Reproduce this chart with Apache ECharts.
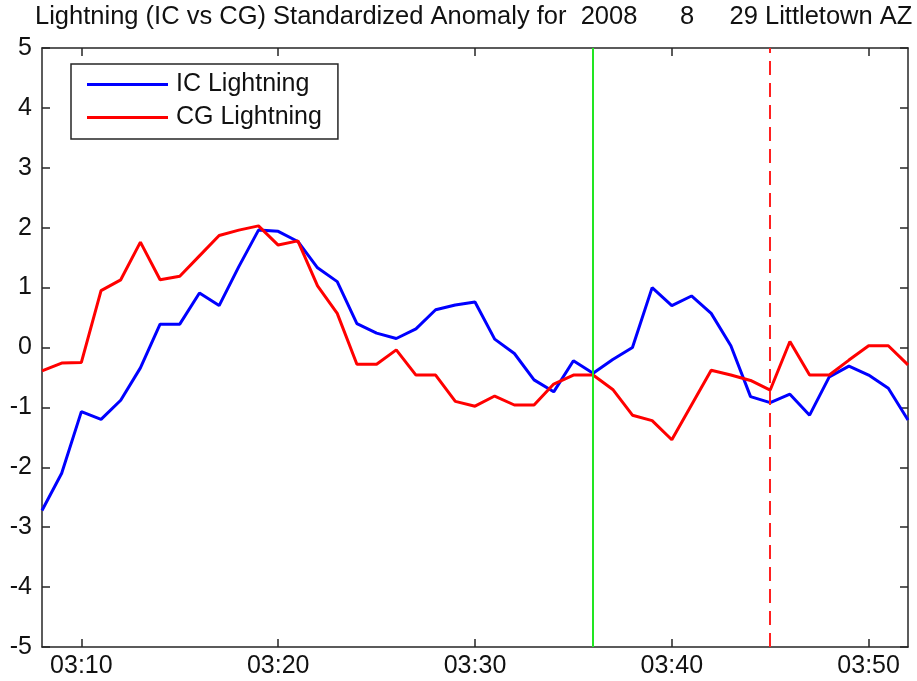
<!DOCTYPE html>
<html>
<head>
<meta charset="utf-8">
<script src="https://cdn.jsdelivr.net/npm/echarts@6/dist/echarts.min.js"></script>
<style>
    html, body { margin: 0; padding: 0; background: #fff; }
    #chart { width: 917px; height: 681px; }
</style>
</head>
<body>
<div id="chart"></div>
<script>
// one sample per minute, 03:08 .. 03:52
const times = [
    '03:08', '03:09', '03:10', '03:11', '03:12', '03:13', '03:14', '03:15', '03:16', '03:17',
    '03:18', '03:19', '03:20', '03:21', '03:22', '03:23', '03:24', '03:25', '03:26', '03:27',
    '03:28', '03:29', '03:30', '03:31', '03:32', '03:33', '03:34', '03:35', '03:36', '03:37',
    '03:38', '03:39', '03:40', '03:41', '03:42', '03:43', '03:44', '03:45', '03:46', '03:47',
    '03:48', '03:49', '03:50', '03:51', '03:52'
];

const icValues = [
    -2.72, -2.10, -1.07, -1.20, -0.88, -0.34, 0.39, 0.39, 0.91, 0.70,
    1.35, 1.96, 1.94, 1.77, 1.33, 1.10, 0.40, 0.24, 0.15, 0.31,
    0.63, 0.71, 0.76, 0.14, -0.10, -0.54, -0.74, -0.22, -0.43, -0.20,
    0.00, 1.00, 0.70, 0.86, 0.57, 0.03, -0.82, -0.92, -0.78, -1.13,
    -0.49, -0.31, -0.46, -0.68, -1.21
];

const cgValues = [
    -0.39, -0.26, -0.25, 0.95, 1.13, 1.76, 1.13, 1.19, 1.53, 1.87,
    1.96, 2.03, 1.71, 1.78, 1.03, 0.57, -0.28, -0.28, -0.04, -0.46,
    -0.46, -0.90, -0.98, -0.81, -0.96, -0.96, -0.61, -0.46, -0.46, -0.70,
    -1.13, -1.22, -1.54, -0.96, -0.38, -0.46, -0.55, -0.71, 0.10, -0.46,
    -0.46, -0.21, 0.03, 0.03, -0.29
];

const greenMark = '03:36';
const redMark = '03:45';

const font = 'Liberation Sans, Arial, sans-serif';
const axisColor = '#262626';

function isTenMinute(index, value) {
    return value.slice(-1) === '0';
}

const chart = echarts.init(document.getElementById('chart'));

const option = {
    animation: false,
    backgroundColor: '#fff',
    title: {
        text: 'Lightning (IC vs CG) Standardized Anomaly for  2008      8     29 Littletown AZ',
        left: 35,
        top: 4,
        padding: 0,
        textStyle: { fontFamily: font, fontSize: 25.5, fontWeight: 'normal', color: '#111' }
    },
    legend: {
        left: 71,
        top: 64,
        orient: 'vertical',
        data: [
            { name: 'IC Lightning', icon: 'rect' },
            { name: 'CG Lightning', icon: 'rect' }
        ],
        itemWidth: 81,
        itemHeight: 3,
        itemGap: 8,
        padding: [8, 16, 9, 16],
        borderColor: axisColor,
        borderWidth: 1.5,
        borderRadius: 0,
        backgroundColor: '#fff',
        textStyle: { fontFamily: font, fontSize: 25, color: '#111', padding: [0, 0, 0, 3] }
    },
    grid: { left: 42, right: 9, top: 48, bottom: 34 },
    xAxis: [
        {
            type: 'category',
            data: times,
            boundaryGap: false,
            axisLine: { onZero: false, lineStyle: { color: axisColor, width: 1.5 } },
            axisTick: { inside: true, length: 8, interval: isTenMinute, lineStyle: { color: axisColor, width: 1.5 } },
            axisLabel: { interval: isTenMinute, margin: 7, fontFamily: font, fontSize: 25, color: '#111' },
            splitLine: { show: false }
        },
        {
            type: 'category',
            data: times,
            position: 'top',
            boundaryGap: false,
            axisLine: { onZero: false, lineStyle: { color: axisColor, width: 1.5 } },
            axisTick: { inside: true, length: 8, interval: isTenMinute, lineStyle: { color: axisColor, width: 1.5 } },
            axisLabel: { show: false },
            splitLine: { show: false }
        }
    ],
    yAxis: [
        {
            type: 'value',
            min: -5,
            max: 5,
            interval: 1,
            axisLine: { show: true, onZero: false, lineStyle: { color: axisColor, width: 1.5 } },
            axisTick: { show: true, inside: true, length: 8, lineStyle: { color: axisColor, width: 1.5 } },
            axisLabel: { margin: 10, fontFamily: font, fontSize: 25, color: '#111' },
            splitLine: { show: false }
        },
        {
            type: 'value',
            min: -5,
            max: 5,
            interval: 1,
            position: 'right',
            axisLine: { show: true, onZero: false, lineStyle: { color: axisColor, width: 1.5 } },
            axisTick: { show: true, inside: true, length: 8, lineStyle: { color: axisColor, width: 1.5 } },
            axisLabel: { show: false },
            splitLine: { show: false }
        }
    ],
    series: [
        {
            name: 'IC Lightning',
            type: 'line',
            data: icValues,
            showSymbol: false,
            symbol: 'none',
            itemStyle: { color: '#0000ff' },
            lineStyle: { color: '#0000ff', width: 3 }
        },
        {
            name: 'CG Lightning',
            type: 'line',
            data: cgValues,
            showSymbol: false,
            symbol: 'none',
            itemStyle: { color: '#ff0000' },
            lineStyle: { color: '#ff0000', width: 3 },
            markLine: {
                silent: true,
                symbol: 'none',
                label: { show: false },
                data: [
                    { xAxis: greenMark, lineStyle: { color: '#22e622', width: 2, type: 'solid' } },
                    { xAxis: redMark, lineStyle: { color: '#ff2020', width: 2, type: [14, 8] } }
                ]
            }
        }
    ]
};

chart.setOption(option);
</script>
</body>
</html>
